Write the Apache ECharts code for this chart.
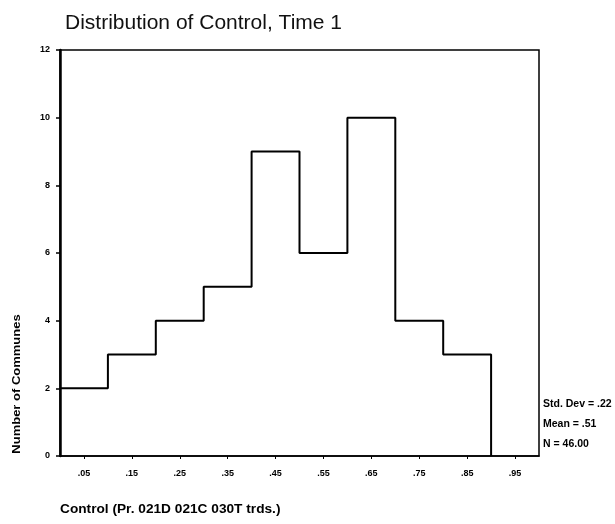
<!DOCTYPE html>
<html><head><meta charset="utf-8">
<script src="https://cdn.jsdelivr.net/npm/echarts@6/dist/echarts.min.js"></script>
<style>html,body{margin:0;padding:0;background:#fff}#c{width:615px;height:524px}</style>
</head><body><div id="c"></div>
<script>
const titleText = 'Distribution of Control, Time 1';
const xAxisTitle = 'Control (Pr. 021D 021C 030T trds.)';
const yAxisTitle = 'Number of Communes';
const binStarts = [0.0, 0.1, 0.2, 0.3, 0.4, 0.5, 0.6, 0.7, 0.8, 0.9];
const counts = [2, 3, 4, 5, 9, 6, 10, 4, 3, 0];
const xTickLabels = ['.05', '.15', '.25', '.35', '.45', '.55', '.65', '.75', '.85', '.95'];
const yTickValues = [0, 2, 4, 6, 8, 10, 12];
const statsLines = ['Std. Dev = .22', 'Mean = .51', 'N = 46.00'];

const chart = echarts.init(document.getElementById('c'), null, {renderer: 'canvas'});
const FONT = '"Liberation Sans", Arial, sans-serif';
const stepData = binStarts.map((x, i) => [x, counts[i]]);

chart.setOption({
  animation: false,
  backgroundColor: '#fff',
  grid: {left: 60, right: 76, top: 50, bottom: 68, show: true, borderColor: '#000', borderWidth: 1.5},
  title: {text: titleText, left: 60, top: 8,
    textStyle: {fontFamily: FONT, fontSize: 21, fontWeight: 'normal', color: '#111'}},
  xAxis: [
    {type: 'category', data: xTickLabels, boundaryGap: true, position: 'bottom',
      axisLine: {show: true, lineStyle: {color: '#000', width: 1.5}},
      axisTick: {show: true, alignWithLabel: true, length: 3, lineStyle: {color: '#000'}},
      axisLabel: {margin: 13, fontFamily: FONT, fontSize: 9, fontWeight: 'bold', color: '#000'},
      splitLine: {show: false}},
    {type: 'value', min: 0, max: 1, show: false, position: 'bottom', splitLine: {show: false}}
  ],
  yAxis: {type: 'value', min: yTickValues[0], max: yTickValues[yTickValues.length - 1], interval: 2,
    axisLine: {show: true, lineStyle: {color: '#000', width: 2.5}},
    axisTick: {show: true, length: 4, lineStyle: {color: '#000', width: 1.5}},
    axisLabel: {margin: 10, fontFamily: FONT, fontSize: 9, fontWeight: 'bold', color: '#000'},
    splitLine: {show: false}},
  series: [{
    type: 'line', xAxisIndex: 1, step: 'end', data: stepData, symbol: 'none',
    lineStyle: {color: '#000', width: 2}
  }],
  graphic: [
    {type: 'text', x: 17, y: 384, rotation: Math.PI / 2, scaleX: 1.3,
      style: {text: yAxisTitle, font: 'bold 10px ' + FONT, fill: '#000', align: 'center', verticalAlign: 'middle'}},
    {type: 'text', x: 60, y: 510, scaleX: 1.14,
      style: {text: xAxisTitle, font: 'bold 12px ' + FONT, fill: '#000', align: 'left', verticalAlign: 'middle'}},
    {type: 'text', x: 543, y: 404,
      style: {text: statsLines[0], font: 'bold 10.5px ' + FONT, fill: '#000', align: 'left', verticalAlign: 'middle'}},
    {type: 'text', x: 543, y: 424,
      style: {text: statsLines[1], font: 'bold 10.5px ' + FONT, fill: '#000', align: 'left', verticalAlign: 'middle'}},
    {type: 'text', x: 543, y: 444,
      style: {text: statsLines[2], font: 'bold 10.5px ' + FONT, fill: '#000', align: 'left', verticalAlign: 'middle'}}
  ]
});
</script>
</body></html>
